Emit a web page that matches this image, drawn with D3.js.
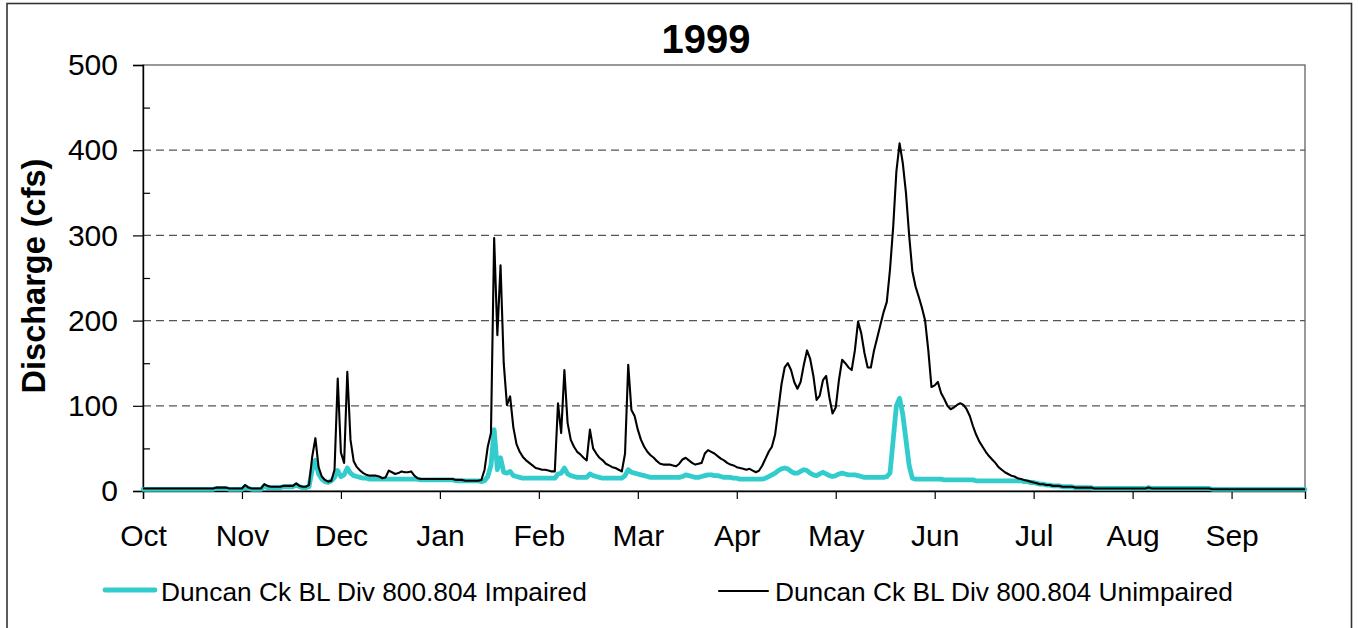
<!DOCTYPE html>
<html>
<head>
<meta charset="utf-8">
<script src="https://cdn.jsdelivr.net/npm/d3@7"></script>
<style>
  html, body { margin: 0; padding: 0; background: #fff; }
  svg { display: block; }
  text { font-family: "Liberation Sans", Arial, sans-serif; fill: #000; }
</style>
</head>
<body>
<svg id="chart" width="1358" height="628"></svg>
<script>
// ---- Data (daily discharge, water year Oct 1998 - Sep 1999, day index 0..364) ----
const title = "1999";
const monthLabels = ["Oct","Nov","Dec","Jan","Feb","Mar","Apr","May","Jun","Jul","Aug","Sep"];
const yTicks = [0, 100, 200, 300, 400, 500];
const seriesNames = ["Duncan Ck BL Div 800.804 Impaired", "Duncan Ck BL Div 800.804 Unimpaired"];

const impaired = [
  2,2,2,2,2,2,2,2,2,2,
  2,2,2,2,2,2,2,2,2,2,
  2,2,2,3,3,3,3,2,2,2,
  2,2,5,3,2,2,2,2,6,4,
  4,4,4,4,5,5,5,5,7,5,
  4,4,5,25,36,20,14,11,10,12,
  16,24,17,19,27,21,18,17,16,15,
  15,14,14,14,14,14,14,14,14,14,
  14,14,14,14,14,14,14,13,13,13,
  13,13,13,13,13,13,13,13,12,12,
  12,12,12,12,12,12,11,12,17,30,
  72,25,39,22,21,23,18,17,16,15,
  15,15,15,15,15,15,15,15,15,15,
  20,21,27,20,18,17,16,16,16,16,
  20,18,17,16,15,15,15,15,15,15,
  15,18,25,22,21,20,19,18,17,16,
  16,16,16,16,16,16,16,16,16,17,
  19,18,17,16,16,17,18,19,19,18,
  18,17,16,16,16,15,15,14,14,14,
  14,14,14,14,14,15,17,19,21,24,
  26,27,26,23,21,21,23,25,24,21,
  19,18,20,22,20,18,17,18,20,21,
  20,19,19,19,18,17,16,16,16,16,
  16,16,16,17,21,60,100,109,90,60,
  30,15,14,14,14,14,14,14,14,14,
  14,13,13,13,13,13,13,13,13,13,
  13,12,12,12,12,12,12,12,12,12,
  12,12,12,12,12,12,11,11,10,10,
  9,8,8,7,7,6,6,6,5,5,
  5,5,4,4,4,4,4,4,3,3,
  3,3,3,3,3,3,3,3,3,3,
  3,3,3,3,3,4,3,3,3,3,
  3,3,3,3,3,3,3,3,3,3,
  3,3,3,3,3,2,2,2,2,2,
  2,2,2,2,2,2,2,2,2,2,
  2,2,2,2,2,2,2,2,2,2,
  2,2,2,2,2
];

const unimpaired = [
  3,3,3,3,3,3,3,3,3,3,
  3,3,3,3,3,3,3,3,3,3,
  3,3,3,4,4,4,4,3,3,3,
  3,3,7,4,3,3,3,3,8,6,
  5,5,5,5,6,6,6,6,9,6,
  5,5,7,40,62,28,17,13,11,12,
  25,132,45,33,140,60,35,28,24,21,
  19,18,18,18,17,15,16,24,22,20,
  21,23,22,22,23,18,15,14,14,14,
  14,14,14,14,14,14,14,14,13,13,
  13,12,12,12,12,12,13,25,52,68,
  297,183,265,150,101,111,75,55,46,40,
  36,33,30,27,26,25,25,24,23,23,
  103,68,142,80,60,52,46,43,39,36,
  72,50,44,39,36,32,30,28,27,25,
  23,44,148,95,88,72,60,52,46,42,
  39,35,32,31,31,31,30,29,32,37,
  39,36,33,31,32,33,44,48,46,44,
  41,38,36,33,31,30,28,27,26,25,
  26,24,22,24,30,38,46,52,66,95,
  125,145,150,142,128,120,128,148,165,155,
  135,107,112,130,135,110,91,98,130,154,
  150,145,142,165,199,185,162,145,145,165,
  180,195,210,222,260,310,375,408,385,350,
  300,258,240,228,215,200,165,122,124,128,
  115,108,100,96,98,101,103,101,96,88,
  76,66,58,52,46,41,37,33,28,25,
  22,20,18,17,15,14,13,12,11,10,
  9,8,8,7,7,6,6,6,5,5,
  5,5,4,4,4,4,4,4,3,3,
  3,3,3,3,3,3,3,3,3,3,
  3,3,3,3,3,4,3,3,3,3,
  3,3,3,3,3,3,3,3,3,3,
  3,3,3,3,3,2,2,2,2,2,
  2,2,2,2,2,2,2,2,2,2,
  2,2,2,2,2,2,2,2,2,2,
  2,2,2,2,2
];

// ---- Layout ----
const svg = d3.select("#chart");
const margin = { left: 143, right: 1305, top: 65, bottom: 491 };
const x = d3.scaleLinear().domain([0, 364]).range([margin.left, margin.right]);
const y = d3.scaleLinear().domain([0, 500]).range([margin.bottom, margin.top]);
const monthTicks = monthLabels.map((m, i) => i * 31);
const FONT = "'Liberation Sans', Arial, sans-serif";

// outer frame
svg.append("rect")
  .attr("x", 7).attr("y", 3.5).attr("width", 1344.5).attr("height", 640)
  .attr("fill", "none").attr("stroke", "#333").attr("stroke-width", 1.6);

// plot area border
svg.append("rect")
  .attr("x", margin.left).attr("y", margin.top)
  .attr("width", margin.right - margin.left).attr("height", margin.bottom - margin.top)
  .attr("fill", "none").attr("stroke", "#555").attr("stroke-width", 1.2);

// gridlines
svg.append("g").selectAll("line")
  .data(yTicks.filter(v => v > 0 && v < 500))
  .join("line")
  .attr("x1", margin.left).attr("x2", margin.right)
  .attr("y1", d => y(d)).attr("y2", d => y(d))
  .attr("stroke", "#555").attr("stroke-width", 1.2)
  .attr("stroke-dasharray", "8,5");

// Y axis (major ticks outside)
const yAxis = d3.axisLeft(y).tickValues(yTicks).tickSize(10).tickPadding(15).tickFormat(d3.format("d"));
const gy = svg.append("g").attr("transform", `translate(${margin.left},0)`).call(yAxis);
gy.select(".domain").attr("stroke", "#000").attr("stroke-width", 1.4);
gy.selectAll(".tick line").attr("stroke", "#000").attr("stroke-width", 1.2);
gy.selectAll("text").style("font-size", "30px").style("font-family", FONT).attr("fill", "#000");

// Y minor ticks inside
const minor = d3.range(50, 500, 100);
const yMinorAxis = d3.axisRight(y).tickValues(minor).tickSize(7).tickFormat("");
const gym = svg.append("g").attr("transform", `translate(${margin.left},0)`).call(yMinorAxis);
gym.select(".domain").remove();
gym.selectAll(".tick line").attr("stroke", "#000").attr("stroke-width", 1.2);

// X axis
const xAxis = d3.axisBottom(x).tickValues(monthTicks).tickSize(8).tickPadding(26)
  .tickFormat((d, i) => monthLabels[i]);
const gx = svg.append("g").attr("transform", `translate(0,${margin.bottom})`).call(xAxis);
gx.select(".domain").attr("stroke", "#000").attr("stroke-width", 1.4);
gx.selectAll(".tick line").attr("stroke", "#000").attr("stroke-width", 1.2);
gx.selectAll("text").style("font-size", "30px").style("font-family", FONT).attr("fill", "#000");

// Lines
const line = d3.line().x((d, i) => x(i)).y(d => y(d)).curve(d3.curveLinear);
svg.append("path").datum(impaired)
  .attr("d", line).attr("fill", "none")
  .attr("stroke", "#33CCCC").attr("stroke-width", 4.8)
  .attr("stroke-linejoin", "round").attr("stroke-linecap", "round");
svg.append("path").datum(unimpaired)
  .attr("d", line).attr("fill", "none")
  .attr("stroke", "#000").attr("stroke-width", 2.1)
  .attr("stroke-linejoin", "round");

// Title
svg.append("text").attr("x", 706).attr("y", 53).attr("text-anchor", "middle")
  .style("font-size", "40px").style("font-weight", "bold").text(title);

// Y axis title
svg.append("text")
  .attr("transform", "translate(45,276) rotate(-90)")
  .attr("text-anchor", "middle")
  .style("font-size", "32.5px").style("font-weight", "bold")
  .text("Discharge (cfs)");

// Legend
const legend = [
  { name: seriesNames[0], color: "#33CCCC", width: 4.8, x0: 105, x1: 155, tx: 161, y: 590 },
  { name: seriesNames[1], color: "#000", width: 2.1, x0: 719, x1: 768, tx: 775, y: 591 }
];
const lg = svg.append("g");
legend.forEach(l => {
  lg.append("line").attr("x1", l.x0).attr("x2", l.x1).attr("y1", l.y).attr("y2", l.y)
    .attr("stroke", l.color).attr("stroke-width", l.width).attr("stroke-linecap", "round");
  lg.append("text").attr("x", l.tx).attr("y", 600.5).style("font-size", "26.3px").text(l.name);
});
</script>
</body>
</html>
